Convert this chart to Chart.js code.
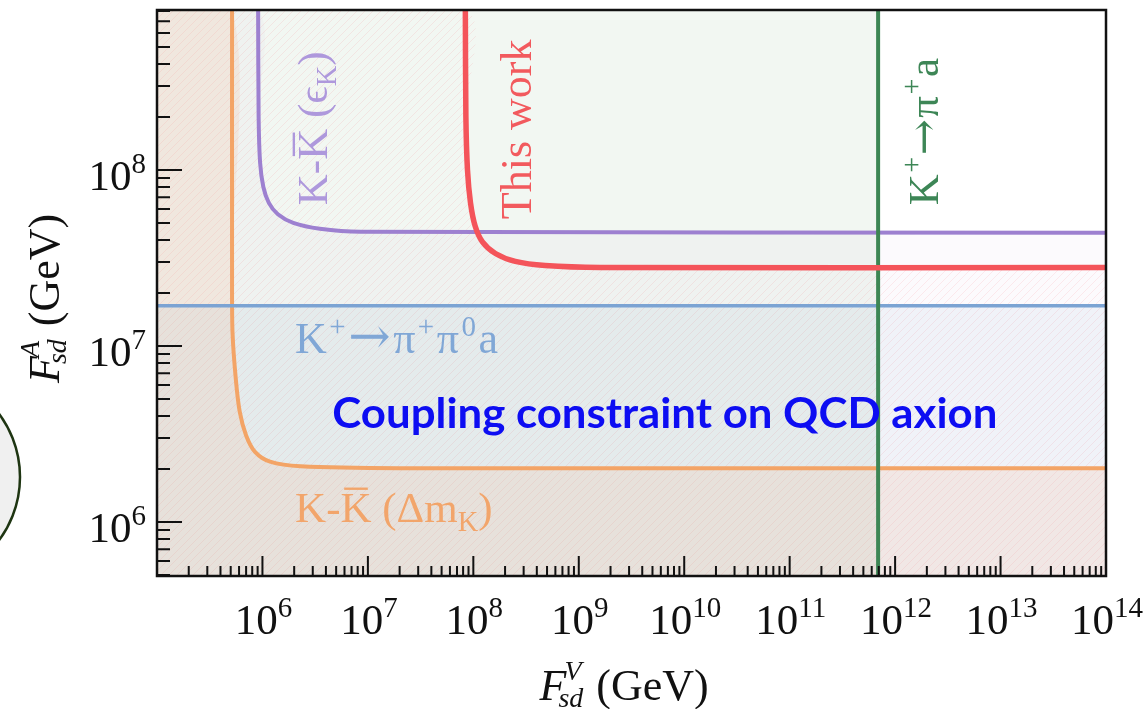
<!DOCTYPE html>
<html>
<head>
<meta charset="utf-8">
<script src="https://cdn.jsdelivr.net/npm/chart.js@4.4.1/dist/chart.umd.min.js"></script>
<style>
  body { margin: 0; background: #fff; }
  #wrap { width: 1145px; height: 709px; }
</style>
</head>
<body>
<div id="wrap"><canvas id="chart" width="1145" height="709"></canvas></div>
<script>
// axis ranges (GeV)
const xMin = 1e5, xMax = 1e14;
const yMin = 4.93e5, yMax = 8.1e8;
const xTickExps = [6, 7, 8, 9, 10, 11, 12, 13, 14];
const yTickExps = [6, 7, 8];

// K-Kbar (Delta m_K) bound
const dmKx = [5.15e5, 5.15e5, 5.2e5, 5.6e5, 6.1e5, 7.0e5, 8.5e5, 1.18e6, 2.3e6, 2e7, 1e14];
const dmKy = [8.1e8, 2.5e7, 1.2e7, 6.4e6, 4.2e6, 3.1e6, 2.5e6, 2.2e6, 2.07e6, 2.02e6, 2.02e6];

// K-Kbar (epsilon_K) bound
const epsKx = [9.1e5, 9.2e5, 9.5e5, 1.02e6, 1.15e6, 1.4e6, 1.96e6, 3.5e6, 8.5e6, 1e14];
const epsKy = [8.1e8, 2.0e8, 1.1e8, 8.0e7, 6.5e7, 5.6e7, 5.0e7, 4.63e7, 4.45e7, 4.4e7];

// this work
const workX = [8.4e7, 8.5e7, 8.8e7, 9.4e7, 1.04e8, 1.22e8, 1.62e8, 2.5e8, 4.8e8, 1.6e9, 1e14];
const workY = [8.1e8, 2.0e8, 1.0e8, 6.5e7, 4.8e7, 3.9e7, 3.35e7, 3.02e7, 2.86e7, 2.79e7, 2.79e7];

// K+ -> pi+ pi0 a (horizontal) and K+ -> pi+ a (vertical)
const kpipi0aY = 1.69e7;
const kpiaX = 6.9e11;

const serif = '"Liberation Serif", "DejaVu Serif", serif';

function pts(xs, ys) {
    return xs.map((x, i) => ({ x: x, y: ys[i] }));
}

function makeHatch() {
    const c = document.createElement('canvas');
    c.width = 8; c.height = 8;
    const g = c.getContext('2d');
    g.strokeStyle = 'rgba(240,120,130,0.14)';
    g.lineWidth = 1;
    g.beginPath();
    g.moveTo(0, 8); g.lineTo(8, 0);
    g.moveTo(-2, 2); g.lineTo(2, -2);
    g.moveTo(6, 10); g.lineTo(10, 6);
    g.stroke();
    return g.createPattern(c, 'repeat');
}

// text with sub/superscripts, optionally rotated to read bottom to top
function drawRich(ctx, parts, x, y, size, color, rotated, gap) {
    ctx.save();
    ctx.translate(x, y);
    if (rotated) ctx.rotate(-Math.PI / 2);
    ctx.fillStyle = color;
    ctx.textBaseline = 'alphabetic';
    ctx.textAlign = 'left';
    let cx = 0;
    parts.forEach(p => {
        let s = size, dy = 0;
        if (p.sup) { s = size * 0.66; dy = -size * 0.4; }
        if (p.sub) { s = size * 0.66; dy = size * 0.2; }
        if (p.arrow) s = size * (p.scale || 1);
        ctx.font = s + 'px ' + (p.arrow ? '"DejaVu Serif"' : serif);
        ctx.fillText(p.t, cx, dy);
        const w = ctx.measureText(p.t).width;
        if (p.bar) ctx.fillRect(cx + w * 0.12, -size * 0.8, w * 0.76, size * 0.055);
        cx += w + (gap || 0);
    });
    ctx.restore();
}

function drawTitle(ctx, sup, x, y, rotated) {
    const size = 44;
    ctx.save();
    ctx.translate(x, y);
    if (rotated) ctx.rotate(-Math.PI / 2);
    ctx.fillStyle = '#111';
    ctx.textAlign = 'left';
    ctx.font = 'italic ' + size + 'px ' + serif;
    ctx.fillText('F', 0, 0);
    const fw = ctx.measureText('F').width;
    ctx.font = 'italic 28px ' + serif;
    ctx.fillText(sup, fw - 2, -size * 0.46);
    const supW = ctx.measureText(sup).width;
    ctx.fillText('sd', fw - 8, size * 0.15);
    const subW = ctx.measureText('sd').width;
    const next = Math.max(fw - 2 + supW, fw - 8 + subW) + 2;
    ctx.font = size + 'px ' + serif;
    ctx.fillText(' (GeV)', next, 0);
    ctx.restore();
}

const decor = {
    id: 'decor',
    beforeDraw(chart) {
        const ctx = chart.ctx;
        // piece of a neighbouring slide shape at the left edge
        ctx.save();
        ctx.beginPath();
        ctx.arc(-86, 477, 106, 0, Math.PI * 2);
        ctx.fillStyle = '#f0f0f0';
        ctx.fill();
        ctx.lineWidth = 2.5;
        ctx.strokeStyle = '#1e3512';
        ctx.stroke();
        ctx.restore();
    },
    afterDatasetsDraw(chart) {
        const ctx = chart.ctx;
        const a = chart.chartArea;
        const xs = chart.scales.x, ys = chart.scales.y;

        // in-plot labels
        drawRich(ctx, [{ t: 'K' }, { t: '+', sup: true }, { t: '\u2192', arrow: true, scale: 1.15 }, { t: '\u03c0' }, { t: '+', sup: true },
            { t: '\u03c0' }, { t: '0', sup: true }, { t: 'a' }],
            xs.getPixelForValue(2.04e6), ys.getPixelForValue(9.1e6), 44, '#80a7d6', false, 2.5);
        drawRich(ctx, [{ t: 'K-' }, { t: 'K', bar: true }, { t: ' (\u0394m' }, { t: 'K', sub: true }, { t: ')' }],
            xs.getPixelForValue(2.04e6), ys.getPixelForValue(1e6), 43, '#f2a56b', false, 0);
        drawRich(ctx, [{ t: 'K-' }, { t: 'K', bar: true }, { t: ' (\u03f5' }, { t: 'K', sub: true }, { t: ')' }],
            xs.getPixelForValue(4.1e6), ys.getPixelForValue(6.3e7), 43, '#ae98dc', true, 0);
        drawRich(ctx, [{ t: 'This work' }],
            xs.getPixelForValue(3.56e8), ys.getPixelForValue(5.25e7), 44, '#f25a5e', true, 0);
        drawRich(ctx, [{ t: 'K' }, { t: '+', sup: true }, { t: '\u2192', arrow: true }, { t: '\u03c0' }, { t: '+', sup: true }, { t: 'a' }],
            xs.getPixelForValue(2.57e12), ys.getPixelForValue(6.3e7), 43, '#3d8656', true, 1.5);

        // overlay caption
        ctx.save();
        ctx.font = 'bold 42px Lato, "Open Sans", sans-serif';
        const cap = 'Coupling constraint on QCD axion';
        const cw = ctx.measureText(cap).width;
        ctx.translate(xs.getPixelForValue(4.6e6), ys.getPixelForValue(3.4e6));
        ctx.scale(665 / cw, 1);
        ctx.fillStyle = '#0d0df2';
        ctx.fillText(cap, 0, 0);
        ctx.restore();

        // frame
        ctx.save();
        ctx.strokeStyle = '#111';
        ctx.lineWidth = 2.5;
        ctx.strokeRect(a.left, a.top, a.right - a.left, a.bottom - a.top);

        // inward ticks
        ctx.lineWidth = 2;
        ctx.beginPath();
        for (let e = 5; e <= 13; e++) {
            for (let k = 1; k <= 9; k++) {
                const v = k * Math.pow(10, e);
                if (v <= xMin || v >= xMax) continue;
                const px = xs.getPixelForValue(v);
                ctx.moveTo(px, a.bottom);
                ctx.lineTo(px, a.bottom - (k === 1 ? 20 : 10));
            }
        }
        for (let e = 5; e <= 8; e++) {
            for (let k = 1; k <= 9; k++) {
                const v = k * Math.pow(10, e);
                if (v <= yMin || v >= yMax) continue;
                const py = ys.getPixelForValue(v);
                ctx.moveTo(a.left, py);
                ctx.lineTo(a.left + (k === 1 ? 25 : 13), py);
            }
        }
        ctx.stroke();
        ctx.restore();

        // tick labels 10^n
        ctx.save();
        ctx.fillStyle = '#111';
        ctx.textAlign = 'left';
        xTickExps.forEach(e => {
            const px = xs.getPixelForValue(Math.pow(10, e));
            ctx.font = '43px ' + serif;
            const w1 = ctx.measureText('10').width;
            ctx.font = '29px ' + serif;
            const w2 = ctx.measureText(String(e)).width;
            const x0 = px - (w1 + w2) / 2 + 1;
            ctx.font = '43px ' + serif;
            ctx.fillText('10', x0, a.bottom + 58);
            ctx.font = '29px ' + serif;
            ctx.fillText(String(e), x0 + w1, a.bottom + 41);
        });
        yTickExps.forEach(e => {
            const py = ys.getPixelForValue(Math.pow(10, e));
            ctx.font = '29px ' + serif;
            const w2 = ctx.measureText(String(e)).width;
            ctx.font = '43px ' + serif;
            const w1 = ctx.measureText('10').width;
            const x1 = a.left - 11;
            ctx.fillText('10', x1 - w2 - w1, py + 20);
            ctx.font = '29px ' + serif;
            ctx.fillText(String(e), x1 - w2, py + 3);
        });
        ctx.restore();

        // axis titles
        drawTitle(ctx, 'V', (a.left + a.right) / 2 - 92, 700, false);
        drawTitle(ctx, 'A', 59, 383, true);
    }
};

const hatch = makeHatch();
const topLeft = { x: xMin, y: yMax };

const datasets = [
    // lines
    { data: pts(workX, workY), borderColor: '#f4545a', borderWidth: 5.5, order: 1 },
    { data: pts([kpiaX, kpiaX], [yMin, yMax]), borderColor: '#3d8654', borderWidth: 4, order: 2 },
    { data: pts(epsKx, epsKy), borderColor: '#9d80d0', borderWidth: 4, order: 3 },
    { data: pts([xMin, xMax], [kpipi0aY, kpipi0aY]), borderColor: '#7ba3d3', borderWidth: 3.5, order: 4 },
    { data: pts(dmKx, dmKy), borderColor: '#f3a466', borderWidth: 4, order: 5 },
    // excluded regions
    { data: [topLeft].concat(pts(dmKx, dmKy)), fill: 'start', backgroundColor: 'rgba(250,170,120,0.15)', borderWidth: 0, order: 20 },
    { data: pts([xMin, xMax], [kpipi0aY, kpipi0aY]), fill: 'start', backgroundColor: 'rgba(70,130,185,0.065)', borderWidth: 0, order: 21 },
    { data: [topLeft].concat(pts(workX, workY)), fill: 'start', backgroundColor: hatch, borderWidth: 0, order: 22 },
    { data: [topLeft].concat(pts(epsKx, epsKy)), fill: 'start', backgroundColor: 'rgba(170,100,200,0.03)', borderWidth: 0, order: 23 },
    { data: pts([xMin, kpiaX], [yMax, yMax]), fill: 'start', backgroundColor: 'rgba(60,140,60,0.065)', borderWidth: 0, order: 24 }
];
datasets.forEach(d => {
    d.showLine = true;
    d.pointRadius = 0;
    d.tension = 0.3;
    d.borderJoinStyle = 'round';
    if (!d.fill) d.fill = false;
});

new Chart(document.getElementById('chart'), {
    type: 'scatter',
    data: { datasets: datasets },
    options: {
        responsive: false,
        animation: false,
        layout: { padding: { left: 157, right: 39, top: 10, bottom: 133 } },
        scales: {
            x: { type: 'logarithmic', min: xMin, max: xMax, display: false },
            y: { type: 'logarithmic', min: yMin, max: yMax, display: false }
        },
        plugins: { legend: { display: false }, tooltip: { enabled: false } }
    },
    plugins: [decor]
});
</script>
</body>
</html>
